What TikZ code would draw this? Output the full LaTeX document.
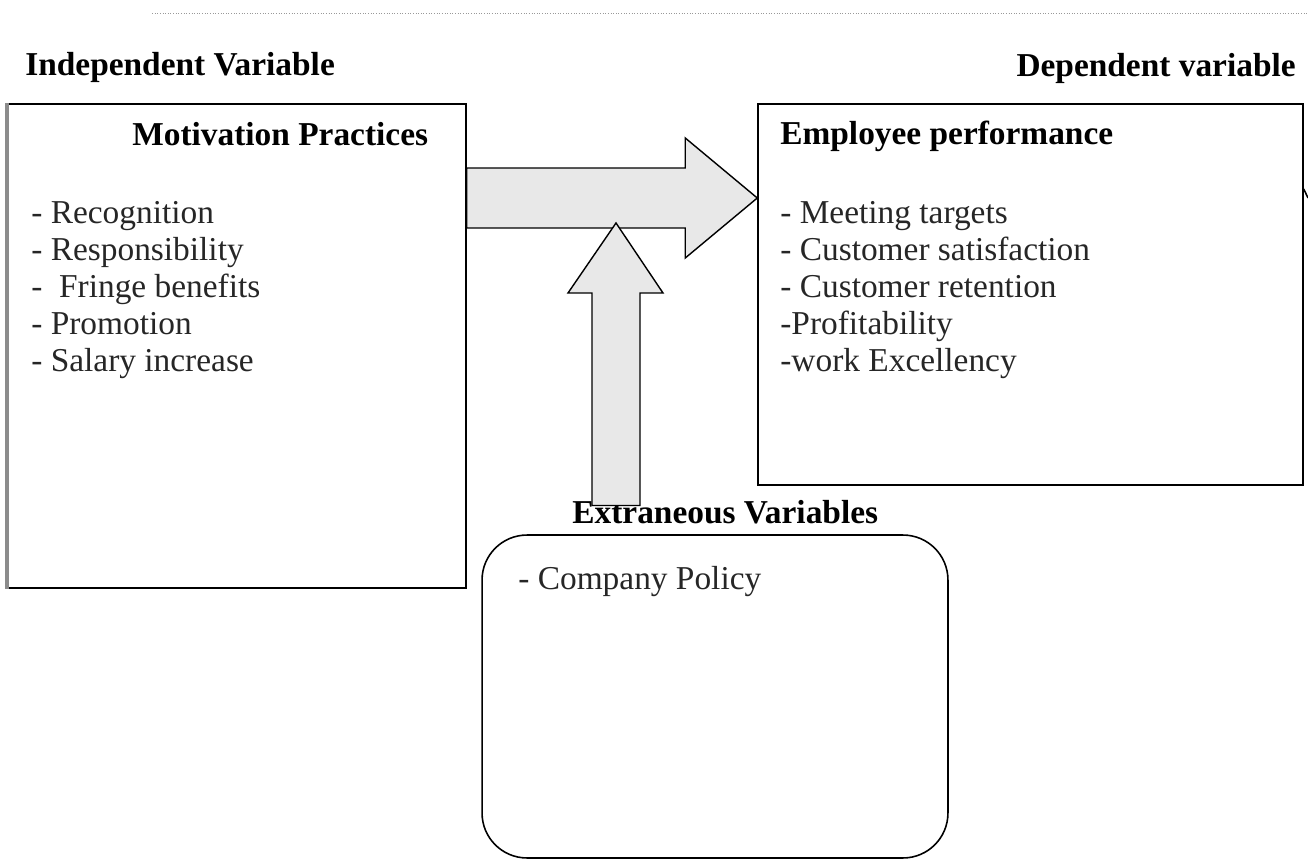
\documentclass[tikz,border=0pt]{standalone}
\usepackage{fontspec}
\setmainfont{Liberation Serif}
\usepackage{tikz}
\usetikzlibrary{calc}
\newcommand{\textsize}{\fontsize{19}{21}\selectfont}
\tikzstyle{frame} = [draw, line width=0.9pt, inner sep=0pt]
\tikzstyle{title} = [font=\textsize\bfseries, inner sep=0pt, anchor=base west]
\tikzstyle{items} = [font=\textsize, align=left, inner sep=0pt, anchor=base west, text=black!85]
\tikzstyle{fatarrow} = [draw, line width=0.8pt, fill=black!9, line join=miter]

\begin{document}
\begin{tikzpicture}[x=0.02cm, y=-0.02cm]
	\useasboundingbox (0,0) rectangle (1308,865);
	\draw [black!40, densely dotted, line width=0.5pt] (152,13) -- (1308,13);
	
	\node (indep) [title] at (25,76) {Independent Variable};
	\node (dep) [title, anchor=base east] at (1296,77) {Dependent variable};
	
	%boxes
	\node (motiv) [frame, minimum width=9.16cm, minimum height=9.68cm] at (237,346) {};
	\draw [black!45, line width=2pt] (motiv.north west) -- (motiv.south west);
	\node (perf) [frame, minimum width=10.9cm, minimum height=7.62cm] at (1030.5,294.5) {};
	\node (extra) [frame, rounded corners=0.9cm, minimum width=9.32cm, minimum height=6.46cm] at (715,696.5) {};
	\draw [line width=0.9pt] (perf.east |- 0,189) -- (1308,198);
	
	%base of a list node = baseline of its last line
	\node (motivtitle) [title] at (132,145) {Motivation Practices};
	\node (motivlist) [items] at (31,371) {- Recognition\\- Responsibility\\-~ Fringe benefits\\- Promotion\\- Salary increase};
	
	\node (perftitle) [title] at (780,144) {Employee performance};
	\node (perflist) [items] at (780,371) {- Meeting targets\\- Customer satisfaction\\- Customer retention\\-Profitability\\-work Excellency};
	
	\node (extratitle) [title] at (572,523) {Extraneous Variables};
	\node (extralist) [items] at (518,589) {- Company Policy};
	
	%block arrows
	\coordinate (htip) at (perf.west |- 0,198);
	\draw [fatarrow] (motiv.east |- 0,168) -- ($(htip) + (-72,-30)$) -- ($(htip) + (-72,-60)$) -- (htip)
		-- ($(htip) + (-72,60)$) -- ($(htip) + (-72,30)$) -- (motiv.east |- 0,228) -- cycle;
	
	\coordinate (vtip) at (616,223);
	\draw [fatarrow] ($(vtip |- extratitle.north) + (-24,6)$) -- ($(vtip) + (-24,70)$) -- ($(vtip) + (-48,70)$) -- (vtip)
		-- ($(vtip) + (47,70)$) -- ($(vtip) + (24,70)$) -- ($(vtip |- extratitle.north) + (24,6)$) -- cycle;
\end{tikzpicture}
\end{document}
